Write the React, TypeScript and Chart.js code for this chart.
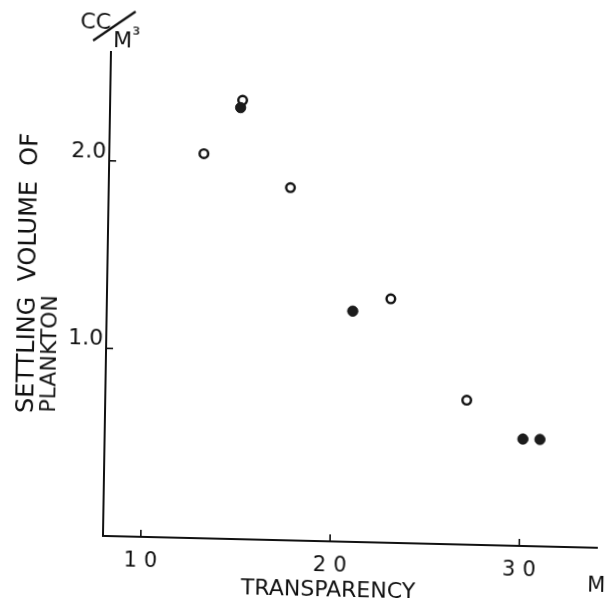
import React, { useEffect, useRef } from "react";
import { Chart, registerables } from "chart.js";

Chart.register(...registerables);

// Transparency (M) vs settling volume of plankton (cc/m³)
const openX = [13.0, 15.0, 17.6, 23.0, 27.1];
const openY = [2.05, 2.34, 1.88, 1.30, 0.77];
const filledX = [14.9, 21.0, 30.1, 31.0];
const filledY = [2.30, 1.23, 0.57, 0.57];

const xTicks = [10, 20, 30];
const yTicks = [1.0, 2.0];
const xTitle = "TRANSPARENCY";
const xUnit = "M";
const yTitle1 = "SETTLING  VOLUME  OF";
const yTitle2 = "PLANKTON";
const yUnitTop = "CC";
const yUnitBottom = "M";
const yUnitPower = "³";

const FONT = "'DejaVu Sans', 'Liberation Sans', sans-serif";
const INK = "#111";

const annotate = {
  id: "annotate",
  afterDraw(chart: any) {
    const ctx = chart.ctx as CanvasRenderingContext2D;
    const xs = chart.scales.x;
    const ys = chart.scales.y;
    const { left, bottom } = chart.chartArea;
    ctx.save();
    ctx.strokeStyle = INK;
    ctx.lineWidth = 1.6;
    // inward tick marks
    xTicks.forEach((v) => {
      const px = xs.getPixelForValue(v);
      ctx.beginPath();
      ctx.moveTo(px, bottom);
      ctx.lineTo(px, bottom - 7);
      ctx.stroke();
    });
    yTicks.forEach((v) => {
      const py = ys.getPixelForValue(v);
      ctx.beginPath();
      ctx.moveTo(left, py);
      ctx.lineTo(left + 7, py);
      ctx.stroke();
    });

    ctx.fillStyle = INK;
    // x tick labels, spaced like the original lettering
    ctx.save();
    ctx.font = `21px ${FONT}`;
    (ctx as any).letterSpacing = "7px";
    ctx.textAlign = "center";
    ctx.textBaseline = "alphabetic";
    xTicks.forEach((v) => {
      const px = xs.getPixelForValue(v);
      ctx.fillText(String(v), px + 3.5, bottom + 30);
    });
    ctx.restore();

    ctx.textBaseline = "alphabetic";
    // x title
    ctx.font = `22px ${FONT}`;
    ctx.textAlign = "center";
    ctx.fillText(xTitle, 321, 583);
    ctx.textAlign = "left";
    ctx.font = `21px ${FONT}`;
    ctx.fillText(xUnit, 580, 572);

    // unit at top of y axis
    ctx.font = `22px ${FONT}`;
    ctx.fillText(yUnitTop, 64, 21);
    ctx.fillText(yUnitBottom, 97, 39);
    const mw = ctx.measureText(yUnitBottom).width;
    ctx.font = `20px ${FONT}`;
    ctx.fillText(yUnitPower, 97 + mw, 33);
    ctx.lineWidth = 2.2;
    ctx.beginPath();
    ctx.moveTo(77, 33);
    ctx.lineTo(119, 3);
    ctx.stroke();

    // rotated y titles
    ctx.save();
    ctx.translate(23, 407);
    ctx.rotate(-Math.PI / 2);
    ctx.font = `24px ${FONT}`;
    ctx.fillText(yTitle1, 0, 0);
    ctx.restore();
    ctx.save();
    ctx.translate(45, 406);
    ctx.rotate(-Math.PI / 2);
    ctx.font = `22px ${FONT}`;
    ctx.fillText(yTitle2, 0, 0);
    ctx.restore();

    ctx.restore();
  },
};

export default function App() {
  const ref = useRef<HTMLCanvasElement | null>(null);
  useEffect(() => {
    if (!ref.current) return;
    const chart = new Chart(ref.current, {
      type: "scatter",
      data: {
        datasets: [
          {
            label: "filled",
            data: filledX.map((x, i) => ({ x, y: filledY[i] })),
            pointRadius: 5.2,
            pointBorderWidth: 0.8,
            pointBackgroundColor: "#1c1c1c",
            pointBorderColor: "#111",
          },
          {
            label: "open",
            data: openX.map((x, i) => ({ x, y: openY[i] })),
            pointRadius: 4.3,
            pointBorderWidth: 2.4,
            pointBackgroundColor: "#ffffff",
            pointBorderColor: "#111",
          },
        ],
      },
      options: {
        responsive: false,
        animation: false,
        layout: { padding: { left: 35, top: 44, right: 11, bottom: 22 } },
        plugins: {
          legend: { display: false },
          tooltip: { enabled: false },
        },
        scales: {
          x: {
            type: "linear",
            min: 8,
            max: 34.1,
            grid: { display: false, drawTicks: false },
            border: { display: true, color: INK, width: 2 },
            ticks: {
              display: false,
              stepSize: 10,
              includeBounds: false,
            },
            afterFit: (s: any) => {
              s.height = 40;
            },
          },
          y: {
            type: "linear",
            min: 0,
            max: 2.58,
            grid: { display: false, drawTicks: false },
            border: { display: true, color: INK, width: 2 },
            ticks: {
              stepSize: 1,
              includeBounds: false,
              padding: 3,
              labelOffset: -9,
              color: INK,
              font: { family: FONT, size: 22 },
              callback: (v: any) => (Number(v) === 0 ? "" : Number(v).toFixed(1)),
            },
            afterFit: (s: any) => {
              s.width = 60;
            },
          },
        },
      },
      plugins: [annotate],
    });
    return () => chart.destroy();
  }, []);
  return (
    <canvas
      ref={ref}
      width={600}
      height={590}
      style={{
        display: "block",
        transformOrigin: "95px 528px",
        transform: "matrix(1, 0.024, -0.0165, 1, 0, 0)",
      }}
    />
  );
}
